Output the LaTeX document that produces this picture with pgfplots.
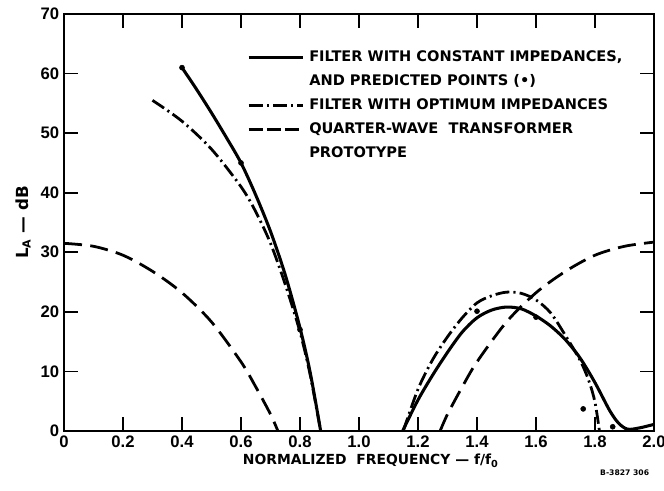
\documentclass[border=0pt]{standalone}
\usepackage{fontspec}
\setmainfont{DejaVu Sans}
\newfontfamily\tickfont{Liberation Sans}
\usepackage{pgfplots}
\pgfplotsset{compat=1.18}

% 1 px of the reference = 0.72pt
\begin{document}
\begin{tikzpicture}
\begin{axis}[
  name=ax,
  scale only axis,
  width=424.8pt, height=300.2pt,
  xmin=0, xmax=2, ymin=0, ymax=70,
  xtick={0,0.2,0.4,0.6,0.8,1.0,1.2,1.4,1.6,1.8,2.0},
  xticklabels={0,0.2,0.4,0.6,0.8,1.0,1.2,1.4,1.6,1.8,2.0},
  ytick={0,10,20,30,40,50,60,70},
  tick align=inside,
  major tick length=10pt,
  axis line style={line width=1.6pt},
  every tick/.style={black, line width=1.2pt},
  tick label style={font=\tickfont\fontsize{12}{14}\selectfont\bfseries},
  /pgf/number format/assume math mode=true,
  xlabel={NORMALIZED~~FREQUENCY — f/f\textsubscript{0}},
  ylabel={L\textsubscript{A} — dB},
  every axis x label/.style={at={(rel axis cs:0.52,0)}, yshift=-21.5pt, anchor=center,
    font=\fontsize{10}{12}\selectfont\bfseries},
  every axis y label/.style={at={(rel axis cs:0,0.5)}, xshift=-29.5pt, rotate=90, anchor=center,
    font=\fontsize{12}{14}\selectfont\bfseries},
  legend style={at={(rel axis cs:0.31,0.915)}, anchor=north west, draw=none, fill=none,
    font=\fontsize{10.5}{12}\selectfont\bfseries, row sep=5.4pt, column sep=2.5pt, inner sep=0pt,
    nodes={inner sep=1pt, text height=7.8pt, text depth=2pt}},
  legend cell align=left,
  legend image code/.code={\draw[#1] (0pt,0pt) -- (39pt,0pt);},
]
% filter with constant impedances
\addplot[black, line width=2.2pt, smooth, forget plot] coordinates {
  (0.4,61) (0.45,57.3) (0.5,53.4) (0.55,49.3) (0.6,45) (0.65,39.6) (0.7,33.5)
  (0.75,26.2) (0.8,17.3) (0.835,9.7) (0.87,0)
};
\addplot[black, line width=2.2pt, smooth, forget plot] coordinates {
  (1.148,0) (1.2,5.2) (1.25,9.4) (1.3,13.2) (1.35,16.6) (1.4,19) (1.45,20.3) (1.5,20.8)
  (1.55,20.5) (1.6,19.3) (1.65,17.6) (1.7,15.3) (1.75,12.2) (1.8,8.1) (1.85,3.4)
  (1.88,1.3) (1.91,0.3) (1.95,0.5) (2.0,1.1)
};
% predicted points
\addplot[only marks, mark=*, mark size=1.8pt, black, forget plot] coordinates {
  (0.4,61) (0.6,45) (0.8,17) (1.4,20.1) (1.6,19.1) (1.76,3.7) (1.86,0.7)
};
% filter with optimum impedances
\addplot[black, line width=2pt, smooth, dash pattern=on 10pt off 3pt on 1.5pt off 3pt, forget plot] coordinates {
  (0.3,55.5) (0.4,52) (0.5,47.3) (0.6,41) (0.65,36.8) (0.7,31.5) (0.75,24.6)
  (0.8,16.6) (0.835,9.3) (0.87,0)
};
\addplot[black, line width=2pt, smooth, dash pattern=on 10pt off 3pt on 1.5pt off 3pt, forget plot] coordinates {
  (1.15,0) (1.2,7) (1.25,12) (1.3,15.8) (1.35,19) (1.4,21.5) (1.45,22.7) (1.5,23.3)
  (1.55,23.1) (1.6,22) (1.65,19.8) (1.7,16) (1.75,11.8) (1.78,8.3) (1.8,4.8) (1.815,0)
};
% quarter-wave transformer prototype
\addplot[black, line width=2pt, smooth, dash pattern=on 13pt off 6pt, forget plot] coordinates {
  (0,31.5) (0.1,31) (0.2,29.5) (0.3,26.8) (0.4,23.2) (0.5,18.3) (0.6,11.6)
  (0.65,7.4) (0.7,2.8) (0.725,0)
};
\addplot[black, line width=2pt, smooth, dash pattern=on 13pt off 6pt, forget plot] coordinates {
  (1.275,0) (1.3,2.8) (1.35,7.4) (1.4,11.6) (1.5,18.3) (1.6,23.2) (1.7,26.8)
  (1.8,29.5) (1.9,31) (2.0,31.7)
};
\addlegendimage{black, line width=2.2pt}
\addlegendentry{FILTER WITH CONSTANT IMPEDANCES,}
\addlegendimage{empty legend}
\addlegendentry{AND PREDICTED POINTS (•)}
\addlegendimage{black, line width=2.2pt, dash pattern=on 10pt off 3pt on 1.5pt off 3pt}
\addlegendentry{FILTER WITH OPTIMUM IMPEDANCES}
\addlegendimage{black, line width=2.2pt, dash pattern=on 10pt off 3pt}
\addlegendentry{QUARTER-WAVE~~TRANSFORMER}
\addlegendimage{empty legend}
\addlegendentry{PROTOTYPE}
\end{axis}
\node[anchor=east, font=\fontsize{5.5}{6}\selectfont\bfseries] at ([yshift=-30pt]ax.south east) {B-3827 306};
\pgfresetboundingbox
\path[use as bounding box] ([xshift=-46.08pt,yshift=-43.2pt]ax.south west) rectangle ([xshift=7.2pt,yshift=10.08pt]ax.north east);
\end{tikzpicture}
\end{document}
